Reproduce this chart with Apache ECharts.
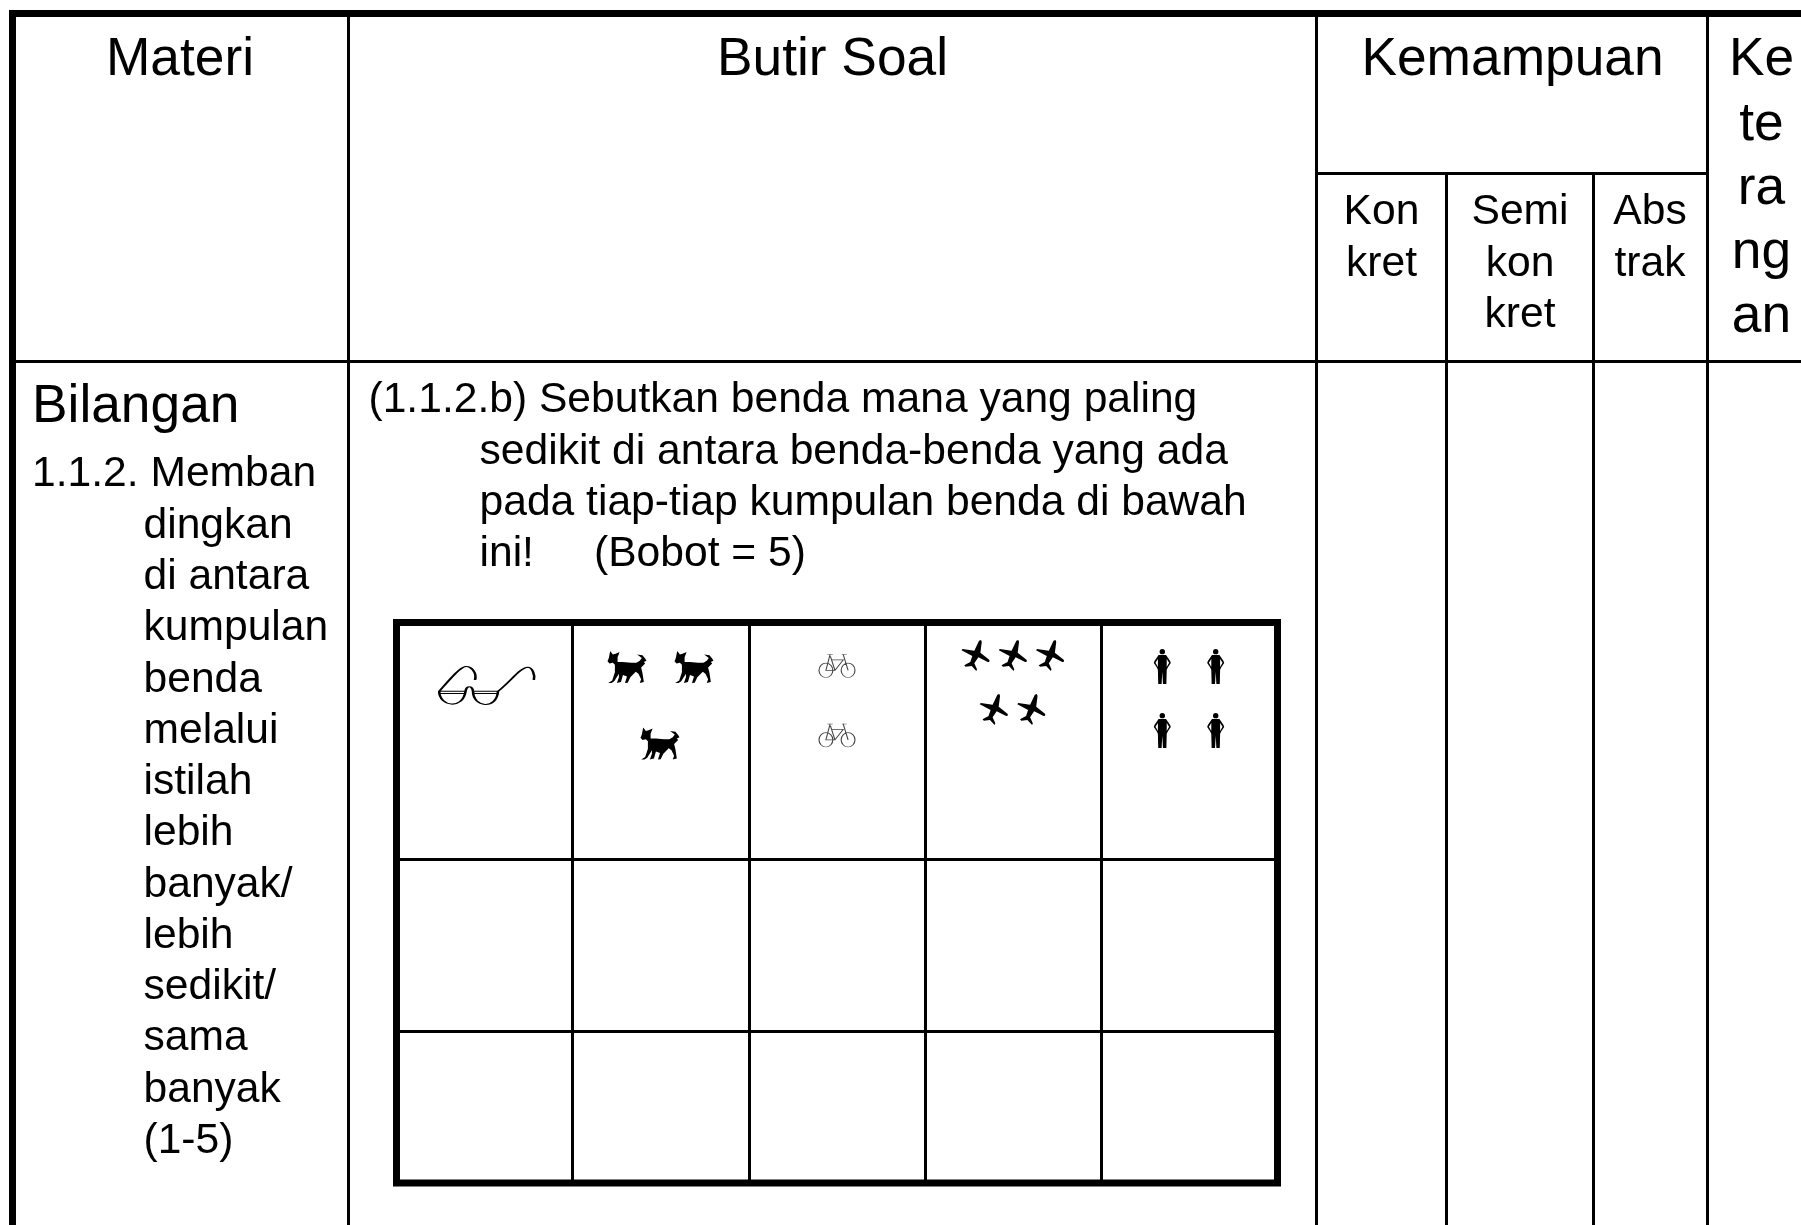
<!DOCTYPE html>
<html><head><meta charset="utf-8">
<style>html,body{margin:0;padding:0;background:#fff}#c{width:1801px;height:1225px}</style>
<script src="https://cdn.jsdelivr.net/npm/echarts@6/dist/echarts.min.js"></script>
</head><body><div id="c"></div>
<script>
// ---- table content ----
const headerMain = ['Materi', 'Butir Soal', 'Kemampuan'];
const headerKet = ['Ke', 'te', 'ra', 'ng', 'an'];
const headerSub = [['Kon', 'kret'], ['Semi', 'kon', 'kret'], ['Abs', 'trak']];
const topicTitle = 'Bilangan';
const topicFirst = '1.1.2. Memban';
const topicLines = ['dingkan', 'di antara', 'kumpulan', 'benda', 'melalui', 'istilah', 'lebih', 'banyak/', 'lebih', 'sedikit/', 'sama', 'banyak', '(1-5)'];
const questionFirst = '(1.1.2.b) Sebutkan benda mana yang paling';
const questionLines = ['sedikit di antara benda-benda yang ada', 'pada tiap-tiap kumpulan benda di bawah', 'ini!'];
const questionWeight = '(Bobot = 5)';

// ---- rules (x or y, from, to, width) ----
const outerV = [[12.5, 10, 1225]];
const outerH = [[13.5, 9, 1801]];
const tableV = [[348.5, 14, 1225], [1316.5, 14, 1225], [1446.5, 173, 1225], [1593.5, 173, 1225], [1707.5, 14, 1225]];
const tableH = [[173.5, 1316, 1707], [361.5, 14, 1801]];
const innerFrame = [[396.5, 619, 1186, 'v'], [1277.5, 619, 1186, 'v'], [622.5, 393, 1281, 'h'], [1183, 393, 1281, 'h']];
const innerV = [[572.5, 622, 1183], [749.5, 622, 1183], [925.5, 622, 1183], [1101.5, 622, 1183]];
const innerH = [[859.5, 397, 1277], [1031.5, 397, 1277]];

// ---- pictograms: counts placed in the first row of the inner table ----
const glassesPts = [[486.7, 685.5]];
const dogPts = [[627, 667], [694, 667], [660, 743.5]];
const bikePts = [[837, 666], [837, 735.5]];
const planePts = [[975.5, 655.5], [1012.8, 655.5], [1050, 655.5], [993.8, 709.5], [1031.3, 709.5]];
const personPts = [[1162.3, 666.5], [1215.7, 666.5], [1162.3, 730.5], [1215.7, 730.5]];

const glassesPath = 'path://M106,40 C112,20 95,0 78,2 C60,5 30,40 0,72 M0,72 L78,72 C80,55 98,55 100,72 L174,72 C215,40 240,5 262,4 C275,4 284,25 280,40 M0,72 C0,115 70,125 78,72 M100,72 C100,118 170,125 174,72 M0,78 L78,78 M100,78 L174,78';
const dogPath = 'path://M8,2 L16,12 L24,10 L36,5 L30,20 L30,34 L46,34 L70,36 L86,36 L96,30 L102,22 L88,12 L104,14 L112,24 L116,30 L108,34 L112,38 L106,44 L100,50 L104,66 L108,92 L96,95 L100,84 L92,68 L84,62 L68,78 L60,94 L52,95 L58,76 L46,72 L40,92 L28,95 L34,78 L34,68 L20,90 L12,95 L2,95 L14,88 L22,64 L22,42 L16,36 L6,38 L0,32 L4,22 Z';
const bikePath = 'path://M2,47 A20,20 0 1 1 42,47 A20,20 0 1 1 2,47 M66,47 A20,20 0 1 1 106,47 A20,20 0 1 1 66,47 M26,3 L42,3 M34,3 L22,47 L48,47 L72,18 L38,18 M35,8 L48,47 M68,3 L82,3 M72,3 L86,47';
const planePath = 'path://M0,31 L3,27 L38,32 L52,2 L58,0 L60,6 L56,38 L83,60 L82,66 L78,66 L50,52 L38,70 L46,88 L44,93 L30,78 L12,80 L8,76 L26,66 L32,48 Z';
const personPath = 'path://M17,8 A8,8 0 1 1 33,8 A8,8 0 1 1 17,8 Z M14,18 L36,18 L48,36 L50,42 L42,54 L38,62 L37,105 L27,105 L25,68 L23,105 L13,105 L12,62 L8,54 L0,42 L2,36 Z M12,30 L5,41 L12,54 Z M38,30 L38,54 L45,41 Z';

// ---- assemble ----
const FONT = '"Liberation Sans", Arial, sans-serif';
const big = 53.3, small = 42.6, asc = 0.3465, dy = 3.8;
const texts = [];
function put(t, x, base, fs, align) { texts.push({ t, x, y: base - asc * fs + dy, fs, align }); }
const mainX = [180, 832.5, 1512.5];
headerMain.forEach((t, i) => put(t, mainX[i], 75, big, 'center'));
const ketY = [75, 139.5, 204, 268, 332];
headerKet.forEach((t, i) => put(t, 1761.5, ketY[i], big, 'center'));
const subX = [1381.5, 1520, 1650], subY = [223.5, 275.5, 326.5];
headerSub.forEach((c, i) => c.forEach((t, j) => put(t, subX[i], subY[j], small, 'center')));
put(topicTitle, 32, 422, big, 'left');
put(topicFirst, 32, 485, small, 'left');
topicLines.forEach((t, i) => put(t, 143.5, 537 + i * 51.25, small, 'left'));
put(questionFirst, 368.5, 411.5, small, 'left');
questionLines.forEach((t, i) => put(t, 479.5, 462.8 + i * 51.3, small, 'left'));
put(questionWeight, 594, 565.4, small, 'left');

const segs = [];
outerV.forEach(a => segs.push([a[0], a[1], a[0], a[2], 7]));
outerH.forEach(a => segs.push([a[1], a[0], a[2], a[0], 7]));
tableV.forEach(a => segs.push([a[0], a[1], a[0], a[2], 3]));
tableH.forEach(a => segs.push([a[1], a[0], a[2], a[0], 3]));
innerV.forEach(a => segs.push([a[0], a[1], a[0], a[2], 3]));
innerH.forEach(a => segs.push([a[1], a[0], a[2], a[0], 3]));
innerFrame.forEach(a => segs.push(a[3] === 'v' ? [a[0], a[1], a[0], a[2], 7] : [a[1], a[0], a[2], a[0], 7]));

function icon(name, sym, pts, size, stroke, lw) {
  return {
    name, type: 'scatter', data: pts, symbol: sym, symbolSize: size, silent: true, z: 5,
    itemStyle: stroke ? { color: 'none', borderColor: stroke, borderWidth: lw, opacity: 1 } : { color: '#000', opacity: 1 }
  };
}

const chart = echarts.init(document.getElementById('c'), null, { renderer: 'canvas' });
chart.setOption({
  animation: false,
  backgroundColor: '#fff',
  grid: { left: 0, right: 0, top: 0, bottom: 0 },
  xAxis: { type: 'value', min: 0, max: 1801, show: false },
  yAxis: { type: 'value', min: 0, max: 1225, inverse: true, show: false },
  series: [
    {
      type: 'custom', silent: true, z: 2, data: segs,
      renderItem(p, api) {
        const a = api.coord([api.value(0), api.value(1)]), b = api.coord([api.value(2), api.value(3)]);
        return { type: 'line', shape: { x1: a[0], y1: a[1], x2: b[0], y2: b[1] }, style: { stroke: '#000', lineWidth: api.value(4) } };
      }
    },
    {
      type: 'custom', silent: true, z: 3, data: texts.map((d, i) => [d.x, d.y, i]),
      renderItem(p, api) {
        const d = texts[api.value(2)], c = api.coord([d.x, d.y]);
        return { type: 'text', style: { text: d.t, x: c[0], y: c[1], fill: '#000', font: d.fs + 'px ' + FONT, textAlign: d.align, textVerticalAlign: 'middle' } };
      }
    },
    icon('glasses', glassesPath, glassesPts, [95, 38], '#000', 1.6),
    icon('dogs', dogPath, dogPts, [39, 32]),
    icon('bicycles', bikePath, bikePts, [36, 23], '#444', 0.9),
    icon('planes', planePath, planePts, [28, 31]),
    icon('people', personPath, personPts, [17, 35])
  ]
});
</script></body></html>
